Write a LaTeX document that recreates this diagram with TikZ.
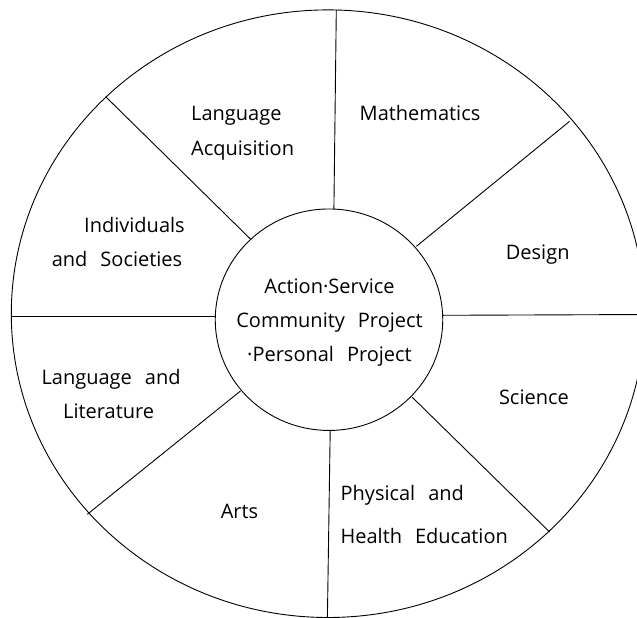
\documentclass[tikz,border=0pt]{standalone}
\usepackage{fontspec}
\setmainfont[WordSpace=2.5]{Open Sans}
\usetikzlibrary{shapes.geometric}
\tikzset{
  ring/.style={draw=black, line width=0.9pt, ellipse, inner sep=0pt},
  spoke/.style={draw=black, line width=0.9pt},
  lbl/.style={anchor=base west, inner sep=0pt, font=\fontsize{20pt}{34pt}\selectfont},
  hubtext/.style={align=center, font=\fontsize{20pt}{34pt}\selectfont}
}
\begin{document}
\begin{tikzpicture}[x=1pt,y=-1pt]
\useasboundingbox (0,0) rectangle (637,618);
\begin{scope}
\clip (0,0) rectangle (637,618);
\node[ring, minimum width=633.4pt, minimum height=607.6pt] (rim) at (328,313.7) {};
% spoke ends
\coordinate (t1) at (333.9,208.9); \coordinate (t2) at (336.3,9.9);
\coordinate (ur1) at (416.4,246.3); \coordinate (ur2) at (569.5,121.4);
\coordinate (r1) at (442.8,315.3); \coordinate (r2) at (650,314.5);
\coordinate (lr1) at (412.3,397.3); \coordinate (lr2) at (549.6,532);
\coordinate (b1) at (330.2,430.4); \coordinate (b2) at (327.3,625);
\coordinate (ll1) at (240.5,391); \coordinate (ll2) at (87.3,514.3);
\coordinate (l1) at (215.3,316); \coordinate (l2) at (11.4,316);
\coordinate (ul1) at (250.6,239.2); \coordinate (ul2) at (105.6,96.6);
\draw[spoke] (t1) -- (t2);
\draw[spoke] (ur1) -- (ur2);
\draw[spoke] (r1) -- (r2);
\draw[spoke] (lr1) -- (lr2);
\draw[spoke] (b1) -- (b2);
\draw[spoke] (ll1) -- (ll2);
\draw[spoke] (l1) -- (l2);
\draw[spoke] (ul1) -- (ul2);
\end{scope}
\node[ring, fill=white, minimum width=227.5pt, minimum height=221.5pt] (hub) at (329,319.7) {};
\node[hubtext] (hubtxt) at (329.5,323) {Action·Service\\Community Project\\·Personal Project};
\node[lbl] (la1) at (191,120.8) {Language};
\node[lbl] (la2) at (191,155) {Acquisition};
\node[lbl] (ma) at (359.5,120.2) {Mathematics};
\node[lbl] (is1) at (84,232.7) {Individuals};
\node[lbl] (is2) at (51.6,266.3) {and Societies};
\node[lbl] (de) at (505.7,259.5) {Design};
\node[lbl] (ll1t) at (41.4,384.8) {Language and};
\node[lbl] (ll2t) at (63,418.3) {Literature};
\node[lbl] (sc) at (498.8,404.6) {Science};
\node[lbl] (ar) at (220.6,518.9) {Arts};
\node[lbl] (ph1) at (340.4,500.7) {Physical and};
\node[lbl] (ph2) at (340.4,543.3) {Health Education};
\end{tikzpicture}
\end{document}
